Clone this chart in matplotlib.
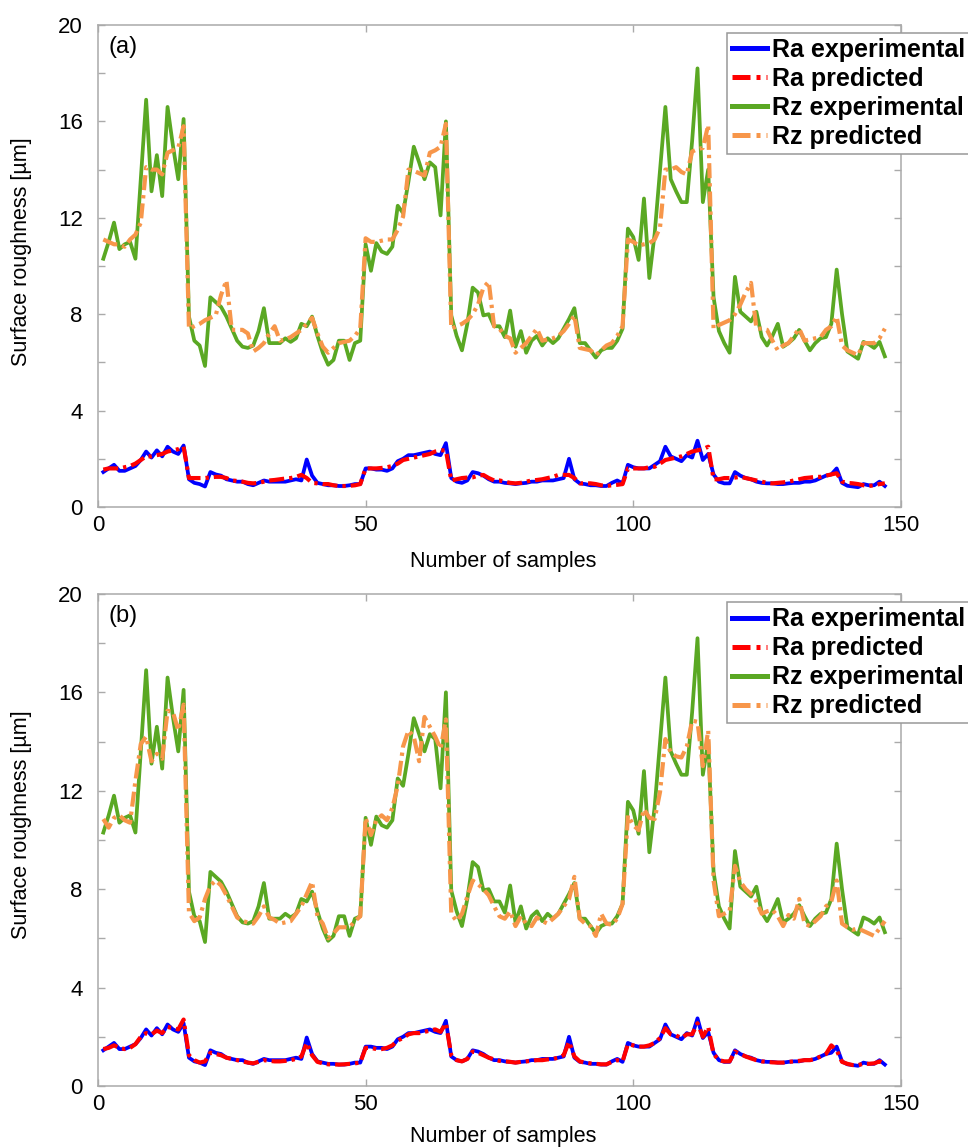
import numpy as np
import matplotlib
matplotlib.use('Agg')
import matplotlib.pyplot as plt

plt.rcParams['font.family'] = ['Liberation Sans', 'DejaVu Sans']

# sample index 1..147 (three runs of 49 samples)
samples = np.arange(1, 148)

# Ra, experimental [um]
Ra_exp = [
    1.45, 1.6, 1.75, 1.5, 1.5, 1.6, 1.7,
    1.95, 2.3, 2.05, 2.35, 2.1, 2.5, 2.3,
    2.2, 2.55, 1.15, 1.0, 0.95, 0.85, 1.45,
    1.35, 1.3, 1.15, 1.1, 1.05, 1.05, 0.95,
    0.9, 1.0, 1.1, 1.05, 1.05, 1.05, 1.05,
    1.1, 1.15, 1.1, 1.97, 1.3, 1.0, 0.95,
    0.9, 0.9, 0.87, 0.87, 0.9, 0.95, 0.95,
    1.6, 1.6, 1.55, 1.55, 1.5, 1.6, 1.9,
    2.0, 2.15, 2.15, 2.2, 2.25, 2.3, 2.2,
    2.15, 2.65, 1.2, 1.05, 1.0, 1.1, 1.45,
    1.4, 1.3, 1.15, 1.05, 1.05, 1.0, 0.98,
    0.95, 0.98, 1.0, 1.05, 1.05, 1.1, 1.1,
    1.1, 1.15, 1.2, 2.0, 1.15, 0.98, 0.95,
    0.9, 0.9, 0.87, 0.87, 1.0, 1.1, 0.98,
    1.75, 1.65, 1.6, 1.6, 1.6, 1.75, 1.9,
    2.5, 2.1, 2.0, 1.9, 2.15, 2.05, 2.75,
    1.95, 2.2, 1.35, 1.05, 0.98, 0.98, 1.45,
    1.3, 1.2, 1.15, 1.05, 1.0, 0.98, 0.98,
    0.95, 0.95, 0.98, 1.0, 1.0, 1.05, 1.05,
    1.1, 1.2, 1.3, 1.35, 1.6, 1.0, 0.88,
    0.85, 0.82, 0.95, 0.9, 0.9, 1.05, 0.87,
]

# Rz, experimental [um]
Rz_exp = [
    10.3, 11.0, 11.8, 10.7, 10.9, 11.0, 10.3,
    13.6, 16.9, 13.1, 14.6, 12.9, 16.6, 15.0,
    13.6, 16.1, 7.9, 6.9, 6.7, 5.85, 8.7,
    8.5, 8.3, 7.9, 7.4, 6.9, 6.65, 6.6,
    6.7, 7.3, 8.25, 6.8, 6.8, 6.8, 7.0,
    6.85, 7.0, 7.6, 7.5, 7.9, 7.1, 6.4,
    5.9, 6.1, 6.9, 6.9, 6.1, 6.8, 6.9,
    10.9, 9.8, 10.95, 10.6, 10.5, 10.8, 12.5,
    12.2, 13.5, 14.95, 14.3, 13.6, 14.3, 14.1,
    12.1, 16.0, 7.95, 7.1, 6.5, 7.6, 9.1,
    8.9, 7.95, 8.0, 7.5, 7.5, 7.05, 8.15,
    6.65, 7.3, 6.4, 6.9, 7.1, 6.7, 7.0,
    6.8, 7.0, 7.4, 7.8, 8.25, 6.8, 6.8,
    6.5, 6.2, 6.5, 6.6, 6.6, 6.9, 7.4,
    11.55, 11.2, 10.25, 12.8, 9.5, 11.35, 14.0,
    16.6, 13.6, 13.1, 12.65, 12.65, 15.2, 18.2,
    12.65, 14.0, 8.7, 7.3, 6.8, 6.4, 9.55,
    8.1, 7.9, 7.7, 8.1, 7.05, 6.7, 7.1,
    7.6, 6.65, 6.8, 7.0, 7.35, 6.9, 6.5,
    6.8, 7.0, 7.05, 7.6, 9.85, 8.0, 6.45,
    6.3, 6.15, 6.85, 6.75, 6.6, 6.85, 6.25,
]

# model (a): predicted Ra and Rz [um]
Ra_pred_a = [
    1.55, 1.6, 1.6, 1.6, 1.65, 1.7, 1.8,
    1.95, 2.1, 2.1, 2.15, 2.2, 2.3, 2.35,
    2.4, 2.5, 1.2, 1.2, 1.2, 1.2, 1.23,
    1.25, 1.25, 1.2, 1.1, 1.08, 1.05, 1.0,
    0.98, 1.0, 1.05, 1.1, 1.12, 1.15, 1.18,
    1.2, 1.25, 1.33, 1.2, 1.0, 0.98, 0.95,
    0.95, 0.9, 0.87, 0.87, 0.88, 0.9, 0.95,
    1.6, 1.6, 1.6, 1.62, 1.65, 1.7, 1.8,
    1.95, 2.0, 2.05, 2.1, 2.15, 2.2, 2.3,
    2.35, 2.35, 1.1, 1.15, 1.2, 1.22, 1.23,
    1.3, 1.33, 1.2, 1.1, 1.1, 1.05, 1.0,
    0.98, 1.0, 1.05, 1.1, 1.12, 1.15, 1.2,
    1.25, 1.33, 1.33, 1.33, 1.2, 0.98, 0.98,
    0.98, 0.95, 0.9, 0.87, 0.9, 0.92, 0.95,
    1.6, 1.6, 1.6, 1.6, 1.65, 1.67, 1.8,
    1.95, 2.0, 2.05, 2.1, 2.2, 2.3, 2.35,
    2.4, 2.5, 1.15, 1.15, 1.2, 1.2, 1.22,
    1.25, 1.2, 1.15, 1.1, 1.05, 1.0, 0.98,
    1.0, 1.02, 1.05, 1.1, 1.15, 1.2, 1.22,
    1.25, 1.25, 1.3, 1.35, 1.4, 1.05, 1.0,
    0.98, 0.95, 0.9, 0.87, 0.9, 0.95, 0.98,
]

Rz_pred_a = [
    11.1, 11.0, 10.9, 10.9, 10.8, 11.1, 11.3,
    11.8, 14.1, 14.0, 14.0, 13.8, 14.7, 14.8,
    14.9, 15.8, 7.4, 7.5, 7.6, 7.75, 7.85,
    7.95, 8.8, 9.4, 7.35, 7.35, 7.35, 7.2,
    6.45, 6.6, 6.8, 7.2, 7.5, 6.9, 6.95,
    7.05, 7.2, 7.35, 7.6, 7.85, 7.2, 6.65,
    6.4, 6.6, 6.8, 6.85, 6.9, 7.1, 7.4,
    11.15, 11.0, 11.0, 11.05, 11.1, 11.1, 11.5,
    12.05, 14.0, 13.95, 13.85, 13.75, 14.7, 14.8,
    14.95, 15.9, 7.4, 7.5, 7.6, 7.75, 8.0,
    8.4, 9.1, 9.35, 7.5, 7.4, 7.1, 7.0,
    6.4, 6.6, 6.8, 7.1, 7.4, 6.9, 6.95,
    7.0, 7.1, 7.3, 7.6, 7.95, 6.6, 6.55,
    6.5, 6.3, 6.5, 6.7, 6.8, 7.1, 7.5,
    11.1, 11.0, 10.85, 10.9, 10.95, 11.1, 11.6,
    14.0, 14.0, 14.1, 13.9, 13.8, 14.75, 14.85,
    14.9, 15.85, 7.4, 7.55, 7.65, 7.75, 8.0,
    8.4, 8.9, 9.3, 7.4, 7.4, 7.35, 6.9,
    6.5, 6.7, 6.8, 7.1, 7.4, 6.9, 6.95,
    7.0, 7.05, 7.35, 7.5, 7.9, 6.7, 6.5,
    6.4, 6.3, 6.8, 6.8, 6.8, 7.0, 7.4,
]

# model (b): predicted Ra and Rz [um]
Ra_pred_b = [
    1.5, 1.55, 1.65, 1.55, 1.5, 1.55, 1.7,
    2.0, 2.15, 2.1, 2.25, 2.15, 2.4, 2.35,
    2.3, 2.7, 1.25, 1.05, 0.95, 1.0, 1.35,
    1.3, 1.25, 1.15, 1.1, 1.05, 1.0, 0.95,
    0.92, 0.98, 1.05, 1.02, 1.0, 1.0, 1.02,
    1.05, 1.1, 1.2, 1.75, 1.25, 0.98, 0.92,
    0.88, 0.88, 0.87, 0.88, 0.9, 0.92, 0.95,
    1.55, 1.55, 1.5, 1.5, 1.55, 1.65, 1.85,
    1.95, 2.1, 2.15, 2.15, 2.2, 2.25, 2.3,
    2.2, 2.55, 1.25, 1.05, 1.0, 1.1, 1.4,
    1.35, 1.25, 1.15, 1.08, 1.02, 1.0, 0.98,
    0.95, 0.98, 1.0, 1.02, 1.05, 1.05, 1.08,
    1.1, 1.15, 1.25, 1.8, 1.2, 1.0, 0.95,
    0.92, 0.9, 0.88, 0.88, 0.98, 1.05, 1.0,
    1.7, 1.65, 1.6, 1.6, 1.65, 1.75, 1.95,
    2.35, 2.1, 2.05, 1.95, 2.1, 2.1, 2.55,
    2.0, 2.4, 1.3, 1.05, 1.0, 1.0, 1.4,
    1.3, 1.2, 1.12, 1.05, 1.0, 0.98, 0.96,
    0.95, 0.95, 0.98, 1.0, 1.02, 1.05, 1.05,
    1.1, 1.2, 1.3, 1.65, 1.45, 0.98, 0.9,
    0.85, 0.85, 0.9, 0.9, 0.92, 1.0, 0.9,
]

Rz_pred_b = [
    10.85, 10.5, 10.9, 11.0, 10.8, 10.7, 12.4,
    13.9, 14.2, 13.2, 13.5, 13.3, 15.25, 15.2,
    14.45, 15.5, 7.05, 6.7, 6.85, 7.6, 8.15,
    8.35, 8.15, 7.75, 7.3, 6.85, 6.7, 6.65,
    6.6, 6.9, 7.3, 6.85, 6.75, 6.6, 6.65,
    6.7, 7.0, 7.3, 7.8, 8.3, 6.9, 6.6,
    6.0, 6.2, 6.45, 6.45, 6.45, 6.7, 6.9,
    10.9, 10.2, 10.8, 11.0, 10.8, 11.3, 12.2,
    13.8, 14.45, 14.2, 13.2, 15.0, 14.6, 14.2,
    13.7, 14.9, 7.0, 6.7, 7.0, 7.7, 8.35,
    8.2, 8.0, 7.75, 7.3, 6.9, 6.8, 7.1,
    6.5, 6.9, 6.6, 6.5, 6.85, 6.7, 6.6,
    6.8, 7.0, 7.3, 7.6, 8.5, 6.8, 6.6,
    6.5, 6.1, 7.0, 6.6, 6.55, 6.8, 7.4,
    11.0, 10.6, 10.4, 11.25, 10.9, 10.85, 11.95,
    14.1, 13.55, 13.4, 13.35, 13.8, 14.85, 14.8,
    13.0, 14.45, 8.35, 6.9, 7.0, 7.1, 8.95,
    8.3, 8.0, 7.8, 7.5, 7.0, 7.1, 7.15,
    6.9, 6.5, 6.95, 6.8, 7.6, 6.6, 6.5,
    6.7, 6.9, 7.3, 7.5, 8.35, 6.6, 6.45,
    6.35, 6.4, 6.3, 6.2, 6.1, 6.4, 6.7,
]

labels = ['Ra experimental', 'Ra predicted', 'Rz experimental', 'Rz predicted']
c_ra_exp = '#0000ff'
c_ra_pred = '#ff0000'
c_rz_exp = '#5aa823'
c_rz_pred = '#f7964a'
frame_col = '#aaaaaa'
dashdot = (3.6, 1.2, 0.8, 1.2)


def draw_panel(ax, Ra_pred, Rz_pred, tag, xlab_y):
    ax.plot(samples, Ra_exp, color=c_ra_exp, lw=2.7, label=labels[0])
    ax.plot(samples, Ra_pred, color=c_ra_pred, lw=3.0, dashes=dashdot, label=labels[1])
    ax.plot(samples, Rz_exp, color=c_rz_exp, lw=2.7, label=labels[2])
    ax.plot(samples, Rz_pred, color=c_rz_pred, lw=3.0, dashes=dashdot, label=labels[3])

    ax.set_xlim(0, 150)
    ax.set_ylim(0, 20)
    ax.set_xticks([0, 50, 100, 150])
    ax.set_yticks(np.arange(0, 21, 4))
    ax.set_yticks(np.arange(0, 21, 2), minor=True)
    for s in ax.spines.values():
        s.set_color(frame_col)
        s.set_linewidth(1.1)
    ax.tick_params(which='both', direction='in', length=5, width=1.0,
                   color=frame_col, top=True, right=True, labelsize=16)
    ax.tick_params(axis='y', pad=11)
    ax.tick_params(axis='x', pad=6)

    ax.set_xlabel('Number of samples', fontsize=15.5)
    ax.set_ylabel('Surface roughness [\u00b5m]', fontsize=15.5)
    ax.xaxis.set_label_coords(0.505, xlab_y)
    ax.yaxis.set_label_coords(-0.082, 0.53)

    ax.text(0.013, 0.955, tag, transform=ax.transAxes, fontsize=17,
            ha='left', va='center')

    # legend sits on the top-right corner and runs past the figure edge
    leg = ax.legend(loc='upper left', bbox_to_anchor=(0.783, 0.983),
                    borderaxespad=0, fancybox=False, framealpha=1,
                    edgecolor='#999999', prop={'weight': 'bold', 'size': 18},
                    handlelength=1.4, handletextpad=0.2, labelspacing=0.2,
                    borderpad=0.2)
    leg.get_frame().set_linewidth(1.1)
    for h in leg.get_lines():
        h.set_linewidth(3.6)


fig = plt.figure(figsize=(9.68, 11.47), dpi=100)
ax_a = fig.add_axes([0.1012, 0.558, 0.8295, 0.4202])
ax_b = fig.add_axes([0.1012, 0.0532, 0.8295, 0.4290])

draw_panel(ax_a, Ra_pred_a, Rz_pred_a, '(a)', -0.092)
draw_panel(ax_b, Ra_pred_b, Rz_pred_b, '(b)', -0.082)

fig.savefig('out.png', dpi=100)
